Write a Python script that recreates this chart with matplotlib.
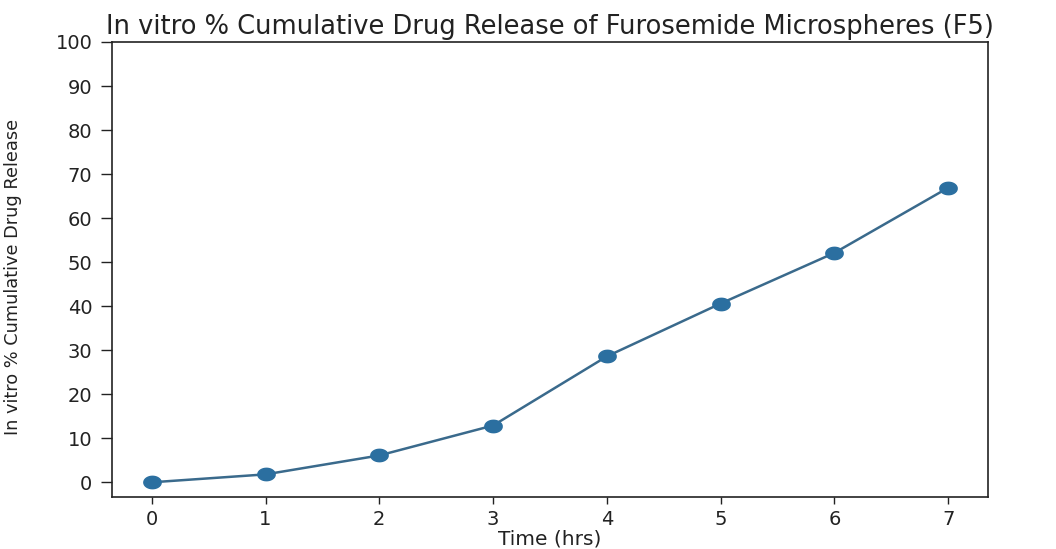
import matplotlib
matplotlib.use("Agg")
import matplotlib.pyplot as plt
import numpy as np

# release profile of batch F5
time_hrs = [0, 1, 2, 3, 4, 5, 6, 7]
release_pct = [0, 1.8, 6.1, 12.9, 28.6, 40.6, 52.1, 66.9]
y_ticks = list(range(0, 101, 10))

# slightly wide oval marker
t = np.linspace(0, 2 * np.pi, 40)
oval = np.column_stack([1.4 * np.cos(t), np.sin(t)])

fig = plt.figure(figsize=(10.56, 5.49), dpi=100)
ax = fig.add_axes([0.106, 0.0947, 0.8296, 0.8288])

ax.plot(time_hrs, release_pct, color="#3a6a8c", linewidth=1.8,
        marker=oval, markersize=12.5, markerfacecolor="#2b6fa0",
        markeredgecolor="#2b6fa0")

ax.set_ylim(-3.34, 100)
ax.set_yticks(y_ticks)
ax.set_xticks(time_hrs)
ax.tick_params(labelsize=14, width=1, colors="#222222")
ax.tick_params(axis="y", length=8, pad=6)
ax.tick_params(axis="x", length=5, pad=4)
for s in ax.spines.values():
    s.set_linewidth(1.2)
    s.set_color("#222222")

ax.set_title("In vitro % Cumulative Drug Release of Furosemide Microspheres (F5)",
             fontsize=18.5, pad=6, color="#222222")
ax.set_xlabel("Time (hrs)", fontsize=14.5, labelpad=1, color="#222222")
ax.set_ylabel("In vitro % Cumulative Drug Release", fontsize=12.8,
              color="#222222")
ax.yaxis.set_label_coords(-0.103, 0.484)

fig.savefig("out.png", dpi=100)
